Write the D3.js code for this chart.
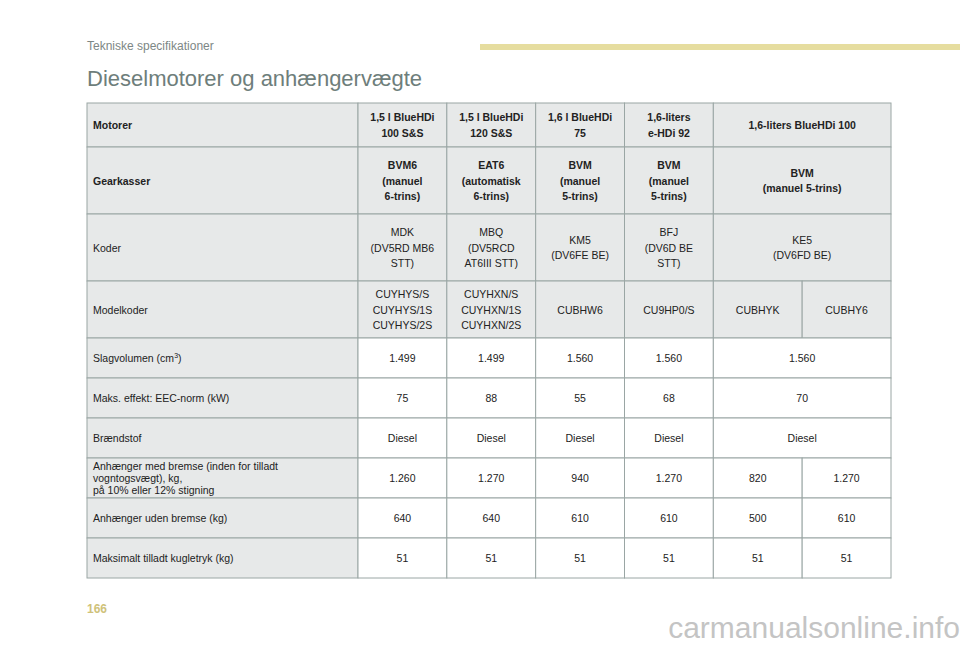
<!DOCTYPE html>
<html><head><meta charset="utf-8">
<script src="https://cdn.jsdelivr.net/npm/d3@7"></script>
<style>body{margin:0;background:#fff}svg{display:block}</style>
</head><body>
<script>
const rowLabels = ["Motorer","Gearkasser","Koder","Modelkoder","Slagvolumen (cm³)","Maks. effekt: EEC-norm (kW)","Brændstof",
 "Anhænger med bremse (inden for tilladt|vogntogsvægt), kg,|på 10% eller 12% stigning","Anhænger uden bremse (kg)","Maksimalt tilladt kugletryk (kg)"];
const engines = ["1,5 l BlueHDi|100 S&S","1,5 l BlueHDi|120 S&S","1,6 l BlueHDi|75","1,6-liters|e-HDi 92","1,6-liters BlueHDi 100"];
const gearboxes = ["BVM6|(manuel|6-trins)","EAT6|(automatisk|6-trins)","BVM|(manuel|5-trins)","BVM|(manuel|5-trins)","BVM|(manuel 5-trins)"];
const codes = ["MDK|(DV5RD MB6|STT)","MBQ|(DV5RCD|AT6III STT)","KM5|(DV6FE BE)","BFJ|(DV6D BE|STT)","KE5|(DV6FD BE)"];
const modelCodes = ["CUYHYS/S|CUYHYS/1S|CUYHYS/2S","CUYHXN/S|CUYHXN/1S|CUYHXN/2S","CUBHW6","CU9HP0/S","CUBHYK","CUBHY6"];
const displacement = ["1.499","1.499","1.560","1.560","1.560"];
const power = ["75","88","55","68","70"];
const fuel = ["Diesel","Diesel","Diesel","Diesel","Diesel"];
const brakedTrailer = ["1.260","1.270","940","1.270","820","1.270"];
const unbrakedTrailer = ["640","640","610","610","500","610"];
const noseWeight = ["51","51","51","51","51","51"];
const rowData = [engines,gearboxes,codes,modelCodes,displacement,power,fuel,brakedTrailer,unbrakedTrailer,noseWeight];
const rowHeights = [44,67,67,57,40,40,40,40,40,40];

const W=960,H=649;
const svg=d3.select("body").append("svg").attr("width",W).attr("height",H)
  .style("font-family","'Liberation Sans',Arial,sans-serif");
svg.append("text").attr("x",87).attr("y",50).attr("font-size",12).attr("fill","#7d8785").text("Tekniske specifikationer");
svg.append("rect").attr("x",480).attr("y",44).attr("width",480).attr("height",6).attr("fill","#e6dd9f");
svg.append("text").attr("x",87).attr("y",86).attr("font-size",22).attr("fill","#6e7e7b").text("Dieselmotorer og anhængervægte");
svg.append("text").attr("x",87).attr("y",613).attr("font-size",12).attr("fill","#cfc27a").attr("font-weight","bold").text("166");
svg.append("text").attr("x",960).attr("y",638).attr("text-anchor","end").attr("font-size",30).attr("fill","#c4c4c4").text("carmanualsonline.info");

const x0=87,dataX=358,tableTop=103;
const xCol=d3.scaleLinear().domain([0,6]).range([dataX,891]);
const ys=[tableTop]; rowHeights.forEach(h=>ys.push(ys[ys.length-1]+h));
const grey="#e7e9e9",border="#9aa6a4";
rowData.forEach((vals,r)=>{
  const y=ys[r],h=rowHeights[r];
  const headerRow=r<4, bold=r<2;
  const g=svg.append("g");
  g.append("rect").attr("x",x0).attr("y",y).attr("width",dataX-x0).attr("height",h).attr("fill",grey).attr("stroke",border);
  const lab=rowLabels[r].split("|");
  const t=g.append("text").attr("font-size",10.5).attr("fill","#222").attr("font-weight",bold?"bold":"normal");
  lab.forEach((s,i)=>{
    const tt=t.append("tspan").attr("x",x0+6).attr("y",y+h/2+4+(i-(lab.length-1)/2)*12);
    if(s.includes("³")){tt.text("Slagvolumen (cm");t.append("tspan").attr("font-size",7).attr("dy",-4).text("3");t.append("tspan").attr("dy",4).text(")");}
    else tt.text(s);
  });
  vals.forEach((v,i)=>{
    const span=(vals.length===5&&i===4)?2:1;
    const cx=xCol(i),cw=xCol(i+span)-cx;
    g.append("rect").attr("x",cx).attr("y",y).attr("width",cw).attr("height",h).attr("fill",headerRow?grey:"#fff").attr("stroke",border);
    const lines=v.split("|");
    const tx=g.append("text").attr("font-size",10.5).attr("fill","#222").attr("text-anchor","middle").attr("font-weight",bold?"bold":"normal");
    lines.forEach((s,k)=>tx.append("tspan").attr("x",cx+cw/2).attr("y",y+h/2+4+(k-(lines.length-1)/2)*15.5).text(s));
  });
});
</script>
</body></html>
